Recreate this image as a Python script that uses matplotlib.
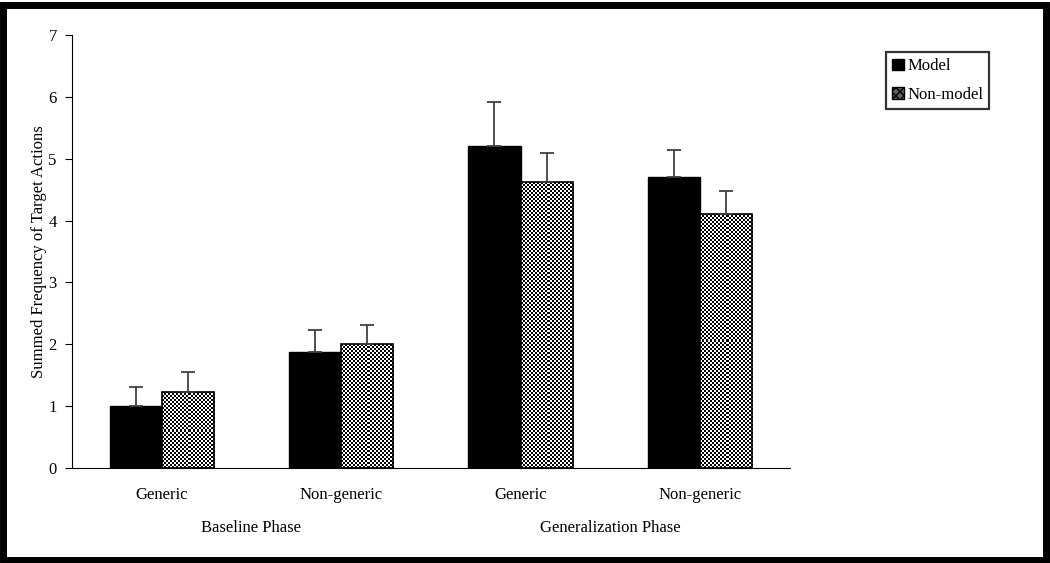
import os
os.environ.setdefault("MPLBACKEND", "Agg")
import numpy as np
import matplotlib.pyplot as plt
from matplotlib.patches import Rectangle, Patch

plt.rcParams['font.family'] = ['Liberation Serif', 'DejaVu Serif']

# data
conditions = ["Generic", "Non-generic", "Generic", "Non-generic"]
phases = ["Baseline Phase", "Generalization Phase"]
model = [1.0, 1.87, 5.2, 4.7]
model_err = [0.31, 0.36, 0.72, 0.44]
nonmodel = [1.23, 2.0, 4.62, 4.11]
nonmodel_err = [0.32, 0.31, 0.47, 0.37]

fig = plt.figure(figsize=(10.5, 5.63), dpi=100)
ax = fig.add_axes([0.0686, 0.1687, 0.6834, 0.7691])

x = np.arange(len(conditions)) + 0.5
w = 0.29
ekw = dict(ecolor="#404040", elinewidth=1.3, capsize=5, capthick=1.3)

b1 = ax.bar(x - w / 2, model, w, color="black", edgecolor="black", linewidth=1)
ax.errorbar(x - w / 2, model, yerr=[np.zeros(4), model_err], fmt="none", **ekw)
b2 = ax.bar(x + w / 2, nonmodel, w, facecolor="none", edgecolor="black", linewidth=1.2, zorder=2)
ax.errorbar(x + w / 2, nonmodel, yerr=[np.zeros(4), nonmodel_err], fmt="none", **ekw)

# checkerboard fill for non-model bars (2 px squares)
cb = (np.indices((400, 40)).sum(axis=0) % 2).astype(float)
for r in b2:
    x0, y0 = r.get_x(), r.get_y()
    h = r.get_height()
    n_rows = int(round(h * 61.9 / 2.0))
    im = ax.imshow(cb[:n_rows, :26], cmap="gray", interpolation="nearest",
                   extent=(x0, x0 + r.get_width(), y0, y0 + h), aspect="auto", zorder=1.5)
    im.set_clip_path(r)

ax.set_xlim(0, 4)
ax.set_ylim(0, 7)
ax.set_yticks(range(8))
ax.set_xticks(x)
ax.set_xticklabels(conditions, fontsize=12)
ax.tick_params(axis="x", length=0, pad=14)
ax.tick_params(axis="y", labelsize=12, length=5, direction="out", pad=6)
for s in ("top", "right"):
    ax.spines[s].set_visible(False)
ax.set_ylabel("Summed Frequency of Target Actions", fontsize=12, labelpad=1)

for i, ph in enumerate(phases):
    ax.text(x[2 * i] + 0.5, -0.97, ph, ha="center", va="center", fontsize=12,
            transform=ax.transData)

leg = fig.legend([Patch(facecolor="black", edgecolor="black"),
                  Patch(facecolor="#606060", edgecolor="black", hatch="xxxx")],
                 ["Model", "Non-model"], loc="upper left",
                 bbox_to_anchor=(0.844, 0.907), borderaxespad=0, fontsize=12,
                 frameon=True, fancybox=False, edgecolor="black", handlelength=0.7,
                 handleheight=0.7, handletextpad=0.2, labelspacing=0.75,
                 borderpad=0.35)
leg.get_frame().set_linewidth(1.6)

fig.patches.append(Rectangle((0.003, 0.006), 0.993, 0.986, transform=fig.transFigure,
                             fill=False, edgecolor="black", linewidth=5))

fig.savefig("out.png", dpi=100)
